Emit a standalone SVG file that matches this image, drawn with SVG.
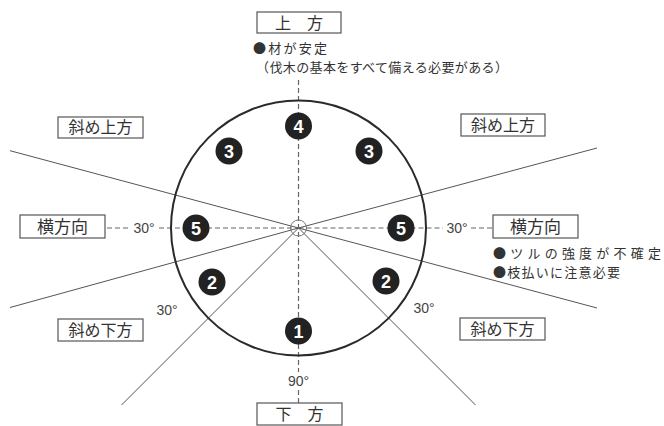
<svg xmlns="http://www.w3.org/2000/svg" width="664" height="426" viewBox="0 0 664 426">
<style>
.bg{fill:#fff}
.box{fill:#fff;stroke:#555;stroke-width:1.2}
.lbl{font-family:"Noto Sans CJK JP","Noto Sans",sans-serif;font-size:16px;fill:#333;text-anchor:middle}
.note{font-family:"Noto Sans CJK JP","Noto Sans",sans-serif;font-size:13px;fill:#333}
.deg{font-family:"Liberation Sans",Arial,sans-serif;font-size:14px;fill:#444;text-anchor:middle}
.ray{stroke:#555;stroke-width:1;fill:none}
.dash{stroke:#666;stroke-width:1.2;stroke-dasharray:5 3;fill:none}
.num circle{fill:#222}
.num text{font-family:"Liberation Sans",Arial,sans-serif;font-weight:bold;font-size:18px;fill:#fff;text-anchor:middle}
</style>
<rect class="bg" width="664" height="426"/>
<g id="connectors">
<line class="ray" x1="10" y1="150.7" x2="298.5" y2="228"/>
<line class="ray" x1="597" y1="148" x2="298.5" y2="228"/>
<line class="ray" x1="10" y1="307.5" x2="298.5" y2="228"/>
<line class="ray" x1="597" y1="308" x2="298.5" y2="228"/>
<line class="ray" x1="121.5" y1="405" x2="298.5" y2="228"/>
<line class="ray" x1="475.5" y1="405" x2="298.5" y2="228"/>
<line class="dash" x1="107" y1="228" x2="129" y2="228"/>
<line class="dash" x1="159" y1="228" x2="298.5" y2="228"/>
<line class="dash" x1="298.5" y1="228" x2="443" y2="228"/>
<line class="dash" x1="471" y1="228" x2="492" y2="228"/>
<line class="dash" x1="298.5" y1="80" x2="298.5" y2="372"/>
<line class="dash" x1="298.5" y1="390" x2="298.5" y2="403"/>
</g>
<g id="circle">
<circle cx="298.5" cy="228" r="127.5" fill="none" stroke="#2a2a2a" stroke-width="2"/>
<circle cx="298.5" cy="228" r="8" fill="none" stroke="#777" stroke-width="1"/>
</g>
<g id="numbers" class="num">
<g id="n4"><circle cx="298.5" cy="126" r="13.5"/><text x="298.5" y="132.5">4</text></g>
<g id="n3l"><circle cx="229" cy="151" r="13.5"/><text x="229" y="157.5">3</text></g>
<g id="n3r"><circle cx="369" cy="151" r="13.5"/><text x="369" y="157.5">3</text></g>
<g id="n5l"><circle cx="196" cy="228" r="13.5"/><text x="196" y="234.5">5</text></g>
<g id="n5r"><circle cx="401" cy="228" r="13.5"/><text x="401" y="234.5">5</text></g>
<g id="n2l"><circle cx="212" cy="282" r="13.5"/><text x="212" y="288.5">2</text></g>
<g id="n2r"><circle cx="386" cy="281" r="13.5"/><text x="386" y="287.5">2</text></g>
<g id="n1"><circle cx="298.5" cy="331" r="13.5"/><text x="298.5" y="337.5">1</text></g>
</g>
<g id="top">
<rect class="box" x="257" y="12" width="84" height="21"/>
<text class="lbl" x="299" y="29">上　方</text>
<text class="note" x="253" y="53" textLength="74" lengthAdjust="spacing">●材が安定</text>
<text class="note" x="256" y="72" textLength="252" lengthAdjust="spacing">（伐木の基本をすべて備える必要がある）</text>
</g>
<g id="bottom">
<rect class="box" x="257" y="403" width="85" height="22"/>
<text class="lbl" x="299.5" y="420">下　方</text>
</g>
<g id="upleft">
<rect class="box" x="58" y="117" width="85" height="21"/>
<text class="lbl" x="100.5" y="133">斜め上方</text>
</g>
<g id="upright">
<rect class="box" x="461" y="114" width="84" height="22"/>
<text class="lbl" x="503" y="130.5">斜め上方</text>
</g>
<g id="left">
<rect class="box" x="20" y="215" width="85" height="23"/>
<text class="lbl" x="62.5" y="232.5" style="font-size:17px">横方向</text>
</g>
<g id="right">
<rect class="box" x="493" y="215" width="85" height="23"/>
<text class="lbl" x="535.5" y="232.5" style="font-size:17px">横方向</text>
<text class="note" x="493" y="258" textLength="168" lengthAdjust="spacing">●ツルの強度が不確定</text>
<text class="note" x="493" y="277" textLength="127" lengthAdjust="spacing">●枝払いに注意必要</text>
</g>
<g id="downleft">
<rect class="box" x="58" y="319" width="85" height="22"/>
<text class="lbl" x="100.5" y="335.5">斜め下方</text>
</g>
<g id="downright">
<rect class="box" x="460" y="318" width="85" height="22"/>
<text class="lbl" x="502.5" y="334.5">斜め下方</text>
</g>
<g id="angles">
<text class="deg" x="144" y="233">30°</text>
<text class="deg" x="457" y="233">30°</text>
<text class="deg" x="167" y="315">30°</text>
<text class="deg" x="424" y="313">30°</text>
<text class="deg" x="298.5" y="386">90°</text>
</g>
</svg>
